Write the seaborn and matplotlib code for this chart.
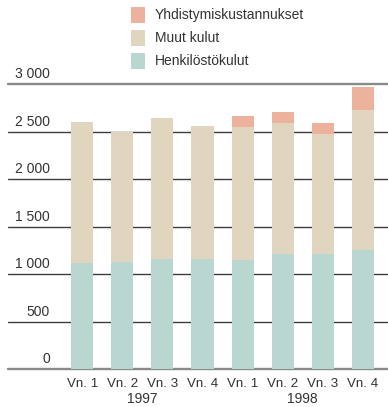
import matplotlib
matplotlib.use("Agg")
import matplotlib.pyplot as plt
import matplotlib.transforms as mtransforms
from matplotlib.patches import Rectangle
import pandas as pd
import seaborn as sns

# Quarterly costs (MFIM), stacked by cost type
quarters = ["Vn. 1", "Vn. 2", "Vn. 3", "Vn. 4", "Vn. 1", "Vn. 2", "Vn. 3", "Vn. 4"]
years = ["1997"] * 4 + ["1998"] * 4
henkilostokulut = [1115, 1126, 1157, 1157, 1147, 1210, 1210, 1252]
muut_kulut = [1490, 1374, 1490, 1406, 1406, 1385, 1260, 1479]
yhdistymiskustannukset = [0, 0, 0, 0, 115, 115, 115, 240]

series_names = ["Yhdistymiskustannukset", "Muut kulut", "Henkilöstökulut"]
series_colors = ["#ecb29d", "#e0d5bf", "#bad6d0"]
yticks = [0, 500, 1000, 1500, 2000, 2500, 3000]
ytick_labels = ["0", "500", "1 000", "1 500", "2 000", "2 500", "3 000"]

TEXT = "#333333"

sns.set_theme(style="white")
plt.rcParams["font.family"] = ["Liberation Sans", "DejaVu Sans"]

df = pd.DataFrame({
    "jakso": [f"{y} {q}" for y, q in zip(years, quarters)],
    "henk": henkilostokulut,
    "muut": muut_kulut,
    "yhd": yhdistymiskustannukset,
})
# cumulative heights for the stacked bars
df["top_henk"] = df["henk"]
df["top_muut"] = df["henk"] + df["muut"]
df["top_yhd"] = df["top_muut"] + df["yhd"]

W, H = 388, 407
fig = plt.figure(figsize=(W / 100, H / 100), dpi=100)
y0_px, y3000_px = 369.3, 84.0
ax = fig.add_axes([8 / W, (H - y0_px) / H, 380 / W, (y0_px - y3000_px) / H])

order = list(df["jakso"])
for col, color in zip(["top_yhd", "top_muut", "top_henk"], series_colors):
    sns.barplot(data=df, x="jakso", y=col, order=order, color=color,
                saturation=1, width=0.55, errorbar=None, linewidth=0, ax=ax)

ax.set_ylim(0, 3000)
ax.set_xlim(-1.85, 7.625)
for s in ax.spines.values():
    s.set_visible(False)
ax.set_xlabel("")
ax.set_ylabel("")
ax.set_yticks([])

# horizontal rules
for v in yticks:
    if v in (0, 3000):
        ax.axhline(v, color="#8a8a8a", lw=1.7, zorder=0.5, clip_on=False)
    else:
        ax.axhline(v, color="#3c3c3c", lw=1.0, zorder=0.5, clip_on=False)

# value labels sitting on the rules
lab_tr = mtransforms.offset_copy(
    mtransforms.blended_transform_factory(fig.transFigure, ax.transData),
    fig=fig, y=3, units="dots")
for v, lab in zip(yticks, ytick_labels):
    ax.text(50 / W, v, lab, transform=lab_tr, ha="right", va="bottom",
            fontsize=10, color=TEXT)

ax.set_xticks(range(len(quarters)))
ax.set_xticklabels(quarters, fontsize=9.6, color=TEXT)
ax.tick_params(axis="x", length=0, pad=6)

# year labels under each group of quarters
yr_tr = mtransforms.blended_transform_factory(ax.transData, fig.transFigure)
for xc, yr in [(1.5, "1997"), (5.5, "1998")]:
    ax.text(xc, (H - 406) / H, yr, transform=yr_tr, ha="center", va="bottom",
            fontsize=10, color=TEXT)

# legend
for i, (name, color) in enumerate(zip(series_names, series_colors)):
    yc = 15 + 23 * i
    fig.patches.append(Rectangle((131 / W, (H - (yc + 8)) / H), 14 / W, 16 / H,
                                 transform=fig.transFigure, color=color, lw=0))
    fig.text(155 / W, (H - yc) / H, name, ha="left", va="center",
             fontsize=10, color=TEXT)

fig.savefig("out.png", dpi=100)
